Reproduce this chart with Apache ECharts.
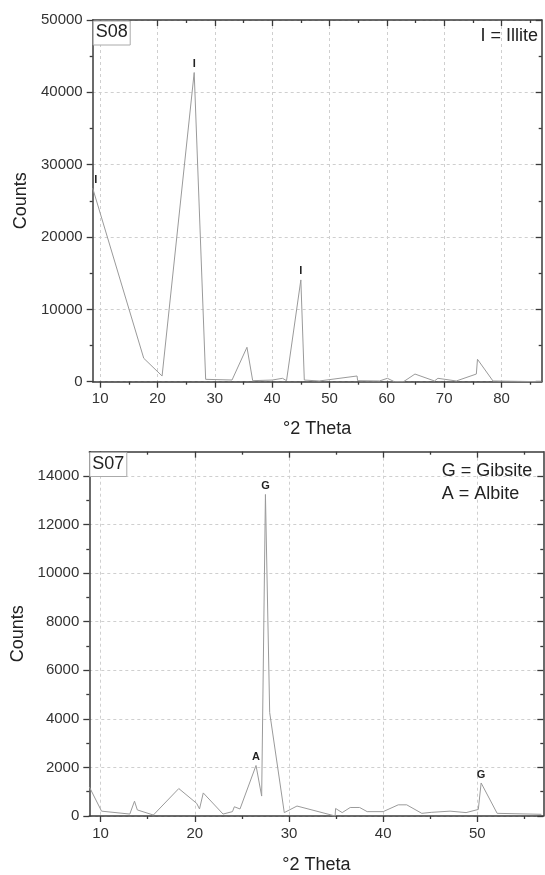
<!DOCTYPE html>
<html>
<head>
<meta charset="utf-8">
<script src="https://cdn.jsdelivr.net/npm/echarts@6/dist/echarts.min.js"></script>
<style>
  html, body { margin: 0; padding: 0; background: #fff; }
  #xrd { width: 545px; height: 875px; }
</style>
</head>
<body>
<div id="xrd"></div>
<script>
// S08 pattern (top)
const s08Theta = [8.7, 17.6, 20.8, 26.4, 28.4, 33.0, 35.6, 36.6, 40.0, 41.8, 42.5, 45.0, 45.6, 48.2,
  54.8, 54.9, 58.7, 60.1, 61.3, 62.9, 64.9, 68.3, 68.9, 72.1, 75.6, 75.8, 78.5, 87.0];
const s08Counts = [26750, 3240, 790, 42740, 330, 235, 4760, 140, 230, 470, 140, 14070, 230, 100,
  790, 140, 100, 470, 0, 0, 1060, 100, 470, 100, 1060, 3100, 100, 0];
const s08Peaks = { 0: 'I', 3: 'I', 11: 'I' };

// S07 pattern (bottom)
const s07Theta = [8.8, 10.1, 13.1, 13.6, 13.9, 15.6, 18.3, 20.2, 20.35, 20.5, 20.9, 23.0, 24.0, 24.2,
  24.8, 26.5, 27.1, 27.5, 27.95, 29.5, 30.85, 34.9, 34.95, 35.65, 36.5, 37.5, 38.3, 40.0, 41.6, 42.5,
  44.1, 45.1, 47.1, 48.8, 50.1, 50.4, 52.1, 56.8];
const s07Counts = [1200, 200, 80, 610, 250, 40, 1130, 520, 560, 290, 950, 80, 180, 380,
  290, 2080, 820, 13240, 4260, 140, 410, 0, 310, 140, 350, 350, 180, 180, 460, 460,
  110, 150, 200, 140, 270, 1360, 110, 70];
const s07Peaks = { 15: 'A', 17: 'G', 35: 'G' };

// ticks
const s08XMajor = [10, 20, 30, 40, 50, 60, 70, 80];
const s08XMinor = [15, 25, 35, 45, 55, 65, 75, 85];
const s08YMajor = [0, 10000, 20000, 30000, 40000, 50000];
const s08YMinor = [5000, 15000, 25000, 35000, 45000];
const s07XMajor = [10, 20, 30, 40, 50];
const s07XMinor = [15, 25, 35, 45, 55];
const s07YMajor = [0, 2000, 4000, 6000, 8000, 10000, 12000, 14000];
const s07YMinor = [1000, 3000, 5000, 7000, 9000, 11000, 13000];

const FONT = 'Liberation Sans, Arial, sans-serif';
const AXIS_COLOR = '#3a3a3a';

function axisSet(dim, grid, min, max, major, minor, name, nameGap) {
  const main = dim === 'x' ? 'bottom' : 'left';
  const opp = dim === 'x' ? 'top' : 'right';
  const base = { gridIndex: grid, type: 'value', min: min, max: max, axisLabel: { show: false },
    splitLine: { show: false }, axisLine: { show: false, onZero: false } };
  return [
    Object.assign({}, base, {
      position: main,
      axisLine: { show: true, onZero: false, lineStyle: { color: AXIS_COLOR, width: 1.5 } },
      axisTick: { show: true, length: 6, customValues: major, lineStyle: { color: AXIS_COLOR, width: 1.3 } },
      axisLabel: { show: true, customValues: major, fontSize: 15, color: '#333', fontFamily: FONT,
        margin: 10, formatter: v => String(v) },
      splitLine: { show: true, lineStyle: { color: '#cfcfcf', type: [3, 3], width: 1 } },
      name: name, nameLocation: 'middle', nameGap: nameGap,
      nameTextStyle: { fontSize: 18, color: '#222', fontFamily: FONT }
    }),
    Object.assign({}, base, {
      position: main,
      axisTick: { show: true, length: 3, customValues: minor, lineStyle: { color: AXIS_COLOR, width: 1.3 } }
    }),
    Object.assign({}, base, {
      position: opp,
      axisLine: { show: true, onZero: false, lineStyle: { color: AXIS_COLOR, width: 1.5 } },
      axisTick: { show: true, inside: true, length: 6, customValues: major, lineStyle: { color: AXIS_COLOR, width: 1.3 } }
    }),
    Object.assign({}, base, {
      position: opp,
      axisTick: { show: true, inside: true, length: 3, customValues: minor, lineStyle: { color: AXIS_COLOR, width: 1.3 } }
    })
  ];
}

function peakData(theta, counts, peaks) {
  return theta.map((t, i) => {
    const item = { value: [t, counts[i]] };
    if (peaks[i]) {
      item.label = { show: true, formatter: peaks[i], position: 'top', distance: 3,
        offset: i === 0 ? [3, 0] : [0, 0],
        fontSize: 11, fontWeight: 'bold', color: '#222', fontFamily: FONT };
    }
    return item;
  });
}

const lineSeries = {
  type: 'line', showSymbol: true, symbol: 'circle', symbolSize: 0,
  itemStyle: { color: 'rgba(0,0,0,0)' }, label: { show: false },
  lineStyle: { color: '#9a9a9a', width: 1 }, z: 1
};

const chart = echarts.init(document.getElementById('xrd'));
const option = {
  animation: false,
  backgroundColor: '#fff',
  grid: [
    { left: 92.7, top: 20, width: 449, height: 361.7 },
    { left: 89.3, top: 451.7, width: 454, height: 367.6 }
  ],
  xAxis: [].concat(
    axisSet('x', 0, 8.7, 87, s08XMajor, s08XMinor, '°2 Theta', 38),
    axisSet('x', 1, 8.8, 57, s07XMajor, s07XMinor, '°2 Theta', 40)
  ),
  yAxis: [].concat(
    axisSet('y', 0, 0, 50000, s08YMajor, s08YMinor, 'Counts', 58),
    axisSet('y', 1, 0, 15000, s07YMajor, s07YMinor, 'Counts', 60)
  ),
  title: [
    { text: 'S08', left: 92.7, top: 20.5, padding: [3, 3, 4, 3], borderColor: '#aaa', borderWidth: 1,
      backgroundColor: '#fff', textStyle: { fontSize: 18, fontWeight: 'normal', color: '#222', fontFamily: FONT } },
    { text: 'I = Illite', right: 7, top: 27, padding: 0,
      textStyle: { fontSize: 18, fontWeight: 'normal', color: '#222', fontFamily: FONT } },
    { text: 'S07', left: 89.3, top: 452, padding: [3, 3, 4, 3], borderColor: '#aaa', borderWidth: 1,
      backgroundColor: '#fff', textStyle: { fontSize: 18, fontWeight: 'normal', color: '#222', fontFamily: FONT } },
    { text: 'G = Gibsite\nA = Albite', left: 441.7, top: 460, padding: 0,
      textStyle: { fontSize: 18, fontWeight: 'normal', color: '#222', fontFamily: FONT, lineHeight: 23 } }
  ],
  series: [
    Object.assign({}, lineSeries, { xAxisIndex: 0, yAxisIndex: 0,
      data: peakData(s08Theta, s08Counts, s08Peaks) }),
    Object.assign({}, lineSeries, { xAxisIndex: 4, yAxisIndex: 4,
      data: peakData(s07Theta, s07Counts, s07Peaks) })
  ]
};
chart.setOption(option);
</script>
</body>
</html>
